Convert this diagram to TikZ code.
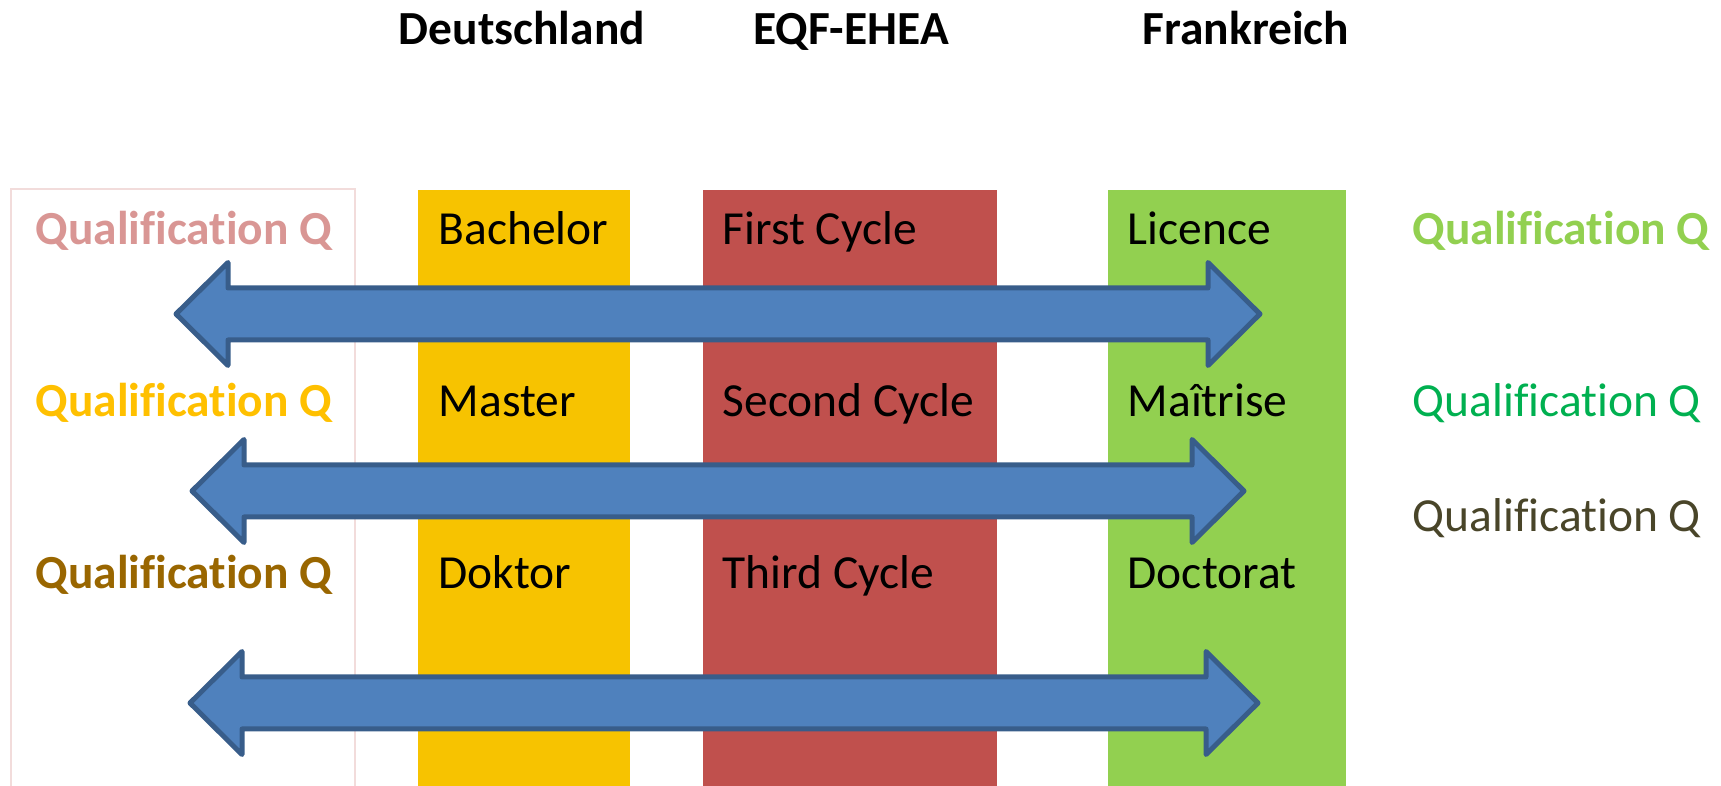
\documentclass[tikz,border=0pt]{standalone}
\usepackage{fontspec}
\setmainfont{Carlito}[Ligatures=CommonOff]
\usepackage{xcolor}
\usepackage{tikz}
\usetikzlibrary{positioning}
\definecolor{deyellow}{RGB}{247,195,0}
\definecolor{eqfred}{RGB}{192,80,77}
\definecolor{frgreen}{RGB}{146,208,80}
\definecolor{arrowfill}{RGB}{79,129,189}
\definecolor{arrowline}{RGB}{56,93,138}
\definecolor{qpink}{RGB}{217,150,148}
\definecolor{qframe}{RGB}{242,220,219}
\definecolor{qyellow}{RGB}{255,192,0}
\definecolor{qbrown}{RGB}{153,102,0}
\definecolor{qlight}{RGB}{146,208,80}
\definecolor{qgreen}{RGB}{0,176,80}
\definecolor{qolive}{RGB}{73,69,41}
\tikzset{
    colbox/.style={rectangle, draw=none, anchor=north west, inner sep=0pt, minimum height=5.97cm},
    header/.style={anchor=base, inner sep=0pt, font=\fontsize{13.5}{16}\selectfont\bfseries},
    entry/.style={anchor=base west, inner sep=0pt, font=\fontsize{13.5}{16}\selectfont},
    blockarrow/.style={fill=arrowfill, draw=arrowline, line width=0.05cm, line join=round}
}
\begin{document}
\begin{tikzpicture}[x=0.01cm, y=-0.01cm]
    \useasboundingbox (0,0) rectangle (1721,786);

    % Columns
    \node[colbox, fill=deyellow, minimum width=2.12cm] (de_col) at (417,189) {};
    \node[colbox, fill=eqfred, minimum width=2.94cm] (eqf_col) at (702,189) {};
    \node[colbox, fill=frgreen, minimum width=2.38cm] (fr_col) at (1107,189) {};

    % Frame round the left qualifications
    \draw[qframe, line width=0.02cm] (11,786) -- (11,189) -- (355,189) -- (355,786);

    % Column headers
    \node[header] (de_head) at (522,45) {Deutschland};
    \node[header] (eqf_head) at (851,45) {EQF-EHEA};
    \node[header] (fr_head) at (1246,45) {Frankreich};

    % Left qualifications
    \node[entry, font=\fontsize{13.5}{16}\selectfont\bfseries, text=qpink] (q_left1) at (35,245) {Qualification Q};
    \node[entry, font=\fontsize{13.5}{16}\selectfont\bfseries, text=qyellow] (q_left2) at (35,417) {Qualification Q};
    \node[entry, font=\fontsize{13.5}{16}\selectfont\bfseries, text=qbrown] (q_left3) at (35,589) {Qualification Q};

    % Degrees
    \node[entry] (bachelor) at (438,245) {Bachelor};
    \node[entry] (master) at (438,417) {Master};
    \node[entry] (doktor) at (438,589) {Doktor};
    \node[entry] (first_cycle) at (722,245) {First Cycle};
    \node[entry] (second_cycle) at (722,417) {Second Cycle};
    \node[entry] (third_cycle) at (722,589) {Third Cycle};
    \node[entry] (licence) at (1127,245) {Licence};
    \node[entry] (maitrise) at (1127,417) {Maîtrise};
    \node[entry] (doctorat) at (1127,589) {Doctorat};

    % Right qualifications
    \node[entry, font=\fontsize{13.5}{16}\selectfont\bfseries, text=qlight] (q_right1) at (1412,245) {Qualification Q};
    \node[entry, text=qgreen] (q_right2) at (1412,417) {Qualification Q};
    \node[entry, text=qolive] (q_right3) at (1412,532) {Qualification Q};

    % Double arrows
    \foreach \i/\y/\xl/\xr in {1/314/176/1260, 2/491/192/1244, 3/703/190/1258} {
        \coordinate (arrow\i_west) at (\xl,\y);
        \coordinate (arrow\i_east) at (\xr,\y);
        \draw[blockarrow] (arrow\i_west) -- ++(52,-51.5) -- ++(0,25.5) -- ({\xr-52},{\y-26}) -- ++(0,-25.5)
            -- (arrow\i_east) -- ++(-52,51.5) -- ++(0,-25.5) -- ({\xl+52},{\y+26}) -- ++(0,25.5) -- cycle;
    }
\end{tikzpicture}
\end{document}
